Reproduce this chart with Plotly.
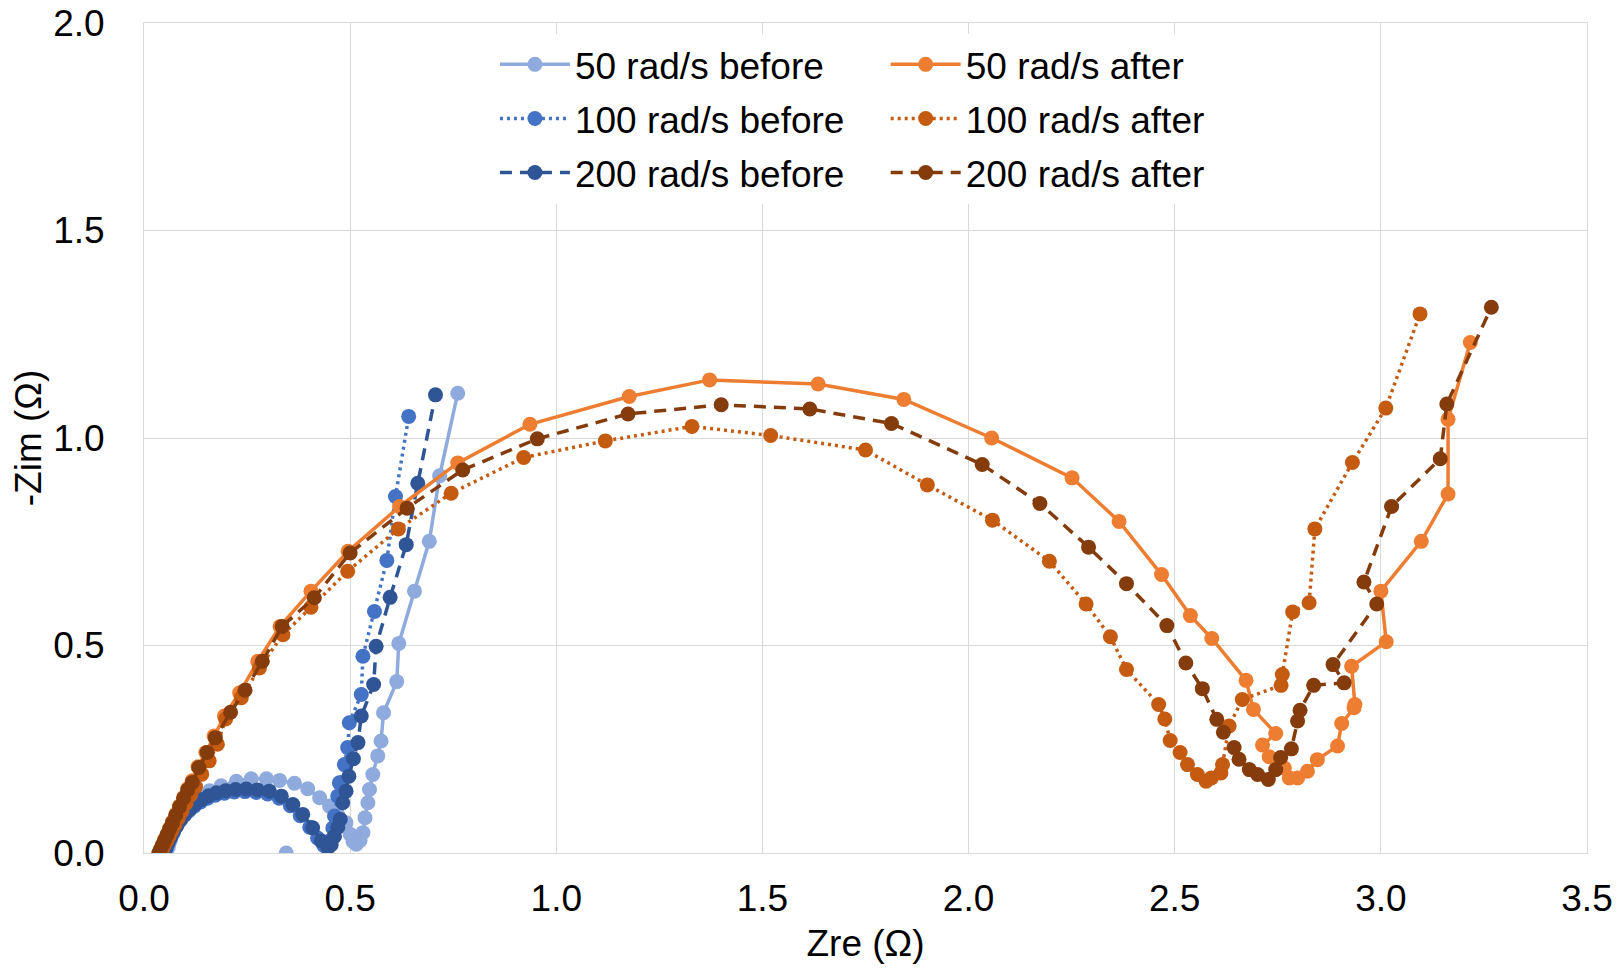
import plotly.graph_objects as go

# ---------------- data ----------------
names = ["50 rad/s before", "100 rad/s before", "200 rad/s before",
         "50 rad/s after", "100 rad/s after", "200 rad/s after"]

x_50_before = [0.345, None,
               0.055, 0.059, 0.064, 0.070, 0.077, 0.085, 0.094, 0.104, 0.117, 0.135,
               0.159, 0.187, 0.224, 0.260, 0.297, 0.329, 0.365, 0.397, 0.426, 0.450,
               0.470, 0.490, 0.500, 0.507, 0.515, 0.524, 0.531, 0.536, 0.543, 0.547,
               0.555, 0.567, 0.575, 0.581, 0.613, 0.618, 0.656, 0.692, 0.717, 0.761]
y_50_before = [0.000, None,
               0.000, 0.014, 0.030, 0.046, 0.062, 0.078, 0.094, 0.108, 0.122, 0.137,
               0.150, 0.162, 0.173, 0.179, 0.179, 0.175, 0.168, 0.155, 0.133, 0.113,
               0.092, 0.073, 0.045, 0.028, 0.021, 0.030, 0.049, 0.085, 0.121, 0.153,
               0.189, 0.234, 0.270, 0.338, 0.413, 0.505, 0.631, 0.751, 0.909, 1.108]

x_100_before = [0.047, 0.051, 0.056, 0.062, 0.069, 0.077, 0.086, 0.097, 0.109, 0.122,
                0.137, 0.154, 0.173, 0.195, 0.219, 0.245, 0.272, 0.300, 0.328, 0.355,
                0.379, 0.402, 0.421, 0.436, 0.445, 0.452, 0.458, 0.462, 0.470, 0.474,
                0.486, 0.494, 0.498, 0.527, 0.531, 0.559, 0.589, 0.610, 0.642]
y_100_before = [0.000, 0.011, 0.023, 0.036, 0.049, 0.063, 0.077, 0.090, 0.102, 0.113,
                0.123, 0.132, 0.139, 0.144, 0.147, 0.148, 0.146, 0.142, 0.132, 0.114,
                0.090, 0.062, 0.036, 0.018, 0.012, 0.030, 0.060, 0.089, 0.137, 0.169,
                0.213, 0.254, 0.314, 0.382, 0.474, 0.582, 0.705, 0.859, 1.052]

x_200_before = [0.050, 0.054, 0.059, 0.065, 0.072, 0.080, 0.089, 0.100, 0.112, 0.125,
                0.140, 0.157, 0.176, 0.198, 0.222, 0.248, 0.275, 0.304, 0.333, 0.361,
                0.385, 0.409, 0.430, 0.446, 0.454, 0.462, 0.470, 0.476, 0.482, 0.490,
                0.497, 0.508, 0.519, 0.527, 0.557, 0.563, 0.597, 0.636, 0.664, 0.707]
y_200_before = [0.000, 0.012, 0.025, 0.038, 0.052, 0.066, 0.080, 0.094, 0.107, 0.119,
                0.129, 0.138, 0.145, 0.150, 0.153, 0.154, 0.152, 0.149, 0.137, 0.117,
                0.093, 0.061, 0.029, 0.013, 0.020, 0.040, 0.062, 0.081, 0.121, 0.149,
                0.185, 0.227, 0.266, 0.330, 0.406, 0.498, 0.616, 0.743, 0.891, 1.104]

x_50_after = [0.036, 0.040, 0.045, 0.050, 0.056, 0.062, 0.069, 0.077, 0.086, 0.096,
              0.106, 0.117, 0.131, 0.150, 0.170, 0.195, 0.232, 0.276, 0.330, 0.405,
              0.495, 0.620, 0.761, 0.936, 1.177, 1.372, 1.635, 1.843, 2.056, 2.251,
              2.365, 2.468, 2.538, 2.590, 2.673, 2.691, 2.745, 2.713, 2.729, 2.766,
              2.778, 2.798, 2.822, 2.846, 2.895, 2.905, 2.935, 2.937, 2.929, 3.013,
              3.000, 3.098, 3.163, 3.163, 3.217]
y_50_after = [0.000, 0.009, 0.020, 0.032, 0.045, 0.059, 0.075, 0.093, 0.113, 0.134,
              0.155, 0.174, 0.208, 0.242, 0.282, 0.330, 0.386, 0.462, 0.546, 0.631,
              0.727, 0.835, 0.940, 1.033, 1.100, 1.140, 1.130, 1.093, 1.000, 0.904,
              0.799, 0.671, 0.572, 0.517, 0.416, 0.346, 0.288, 0.260, 0.232, 0.205,
              0.181, 0.181, 0.197, 0.225, 0.258, 0.312, 0.350, 0.358, 0.450, 0.509,
              0.631, 0.751, 0.865, 1.045, 1.230]

x_100_after = [0.040, 0.044, 0.049, 0.055, 0.061, 0.068, 0.075, 0.083, 0.092, 0.102,
               0.113, 0.125, 0.140, 0.158, 0.178, 0.198, 0.236, 0.280, 0.337, 0.405,
               0.494, 0.617, 0.745, 0.921, 1.119, 1.329, 1.520, 1.750, 1.900, 2.058,
               2.196, 2.285, 2.344, 2.383, 2.461, 2.476, 2.489, 2.513, 2.531, 2.555,
               2.576, 2.589, 2.612, 2.616, 2.632, 2.664, 2.758, 2.761, 2.786, 2.826,
               2.840, 2.931, 3.012, 3.095]
y_100_after = [0.000, 0.008, 0.018, 0.029, 0.041, 0.054, 0.068, 0.084, 0.101, 0.120,
               0.140, 0.160, 0.190, 0.222, 0.262, 0.323, 0.374, 0.446, 0.526, 0.592,
               0.679, 0.781, 0.867, 0.953, 0.993, 1.028, 1.006, 0.971, 0.887, 0.802,
               0.703, 0.600, 0.521, 0.442, 0.358, 0.323, 0.271, 0.242, 0.213, 0.189,
               0.173, 0.181, 0.193, 0.213, 0.306, 0.370, 0.404, 0.430, 0.581, 0.603,
               0.781, 0.941, 1.072, 1.299]

x_200_after = [0.036, 0.040, 0.045, 0.050, 0.056, 0.062, 0.069, 0.077, 0.086, 0.096,
               0.106, 0.117, 0.133, 0.153, 0.173, 0.210, 0.245, 0.287, 0.335, 0.413,
               0.500, 0.638, 0.773, 0.954, 1.174, 1.400, 1.615, 1.813, 2.033, 2.173,
               2.291, 2.383, 2.481, 2.527, 2.567, 2.602, 2.618, 2.644, 2.656, 2.681,
               2.701, 2.727, 2.745, 2.757, 2.783, 2.798, 2.804, 2.837, 2.911, 2.884,
               2.990, 2.959, 3.026, 3.144, 3.160, 3.268]
y_200_after = [0.000, 0.009, 0.020, 0.031, 0.044, 0.058, 0.073, 0.091, 0.111, 0.132,
               0.152, 0.170, 0.206, 0.242, 0.278, 0.339, 0.392, 0.462, 0.546, 0.615,
               0.723, 0.831, 0.923, 0.998, 1.058, 1.080, 1.070, 1.035, 0.936, 0.842,
               0.737, 0.649, 0.548, 0.458, 0.396, 0.322, 0.291, 0.254, 0.226, 0.201,
               0.189, 0.177, 0.201, 0.230, 0.251, 0.318, 0.344, 0.404, 0.410, 0.454,
               0.600, 0.653, 0.835, 0.950, 1.082, 1.315]

x_ticks = [0.0, 0.5, 1.0, 1.5, 2.0, 2.5, 3.0, 3.5]
y_ticks = [0.0, 0.5, 1.0, 1.5, 2.0]

# ---------------- styling ----------------
FONT = "Liberation Sans, Arial, sans-serif"
FS = 37
colors = ["#8FAADC", "#4472C4", "#2F5597", "#ED7D31", "#C55A11", "#843C0C"]
dashes = ["solid", "3px,4px", "12px,8px", "solid", "3px,4px", "12px,8px"]
legends = ["legend", "legend", "legend", "legend2", "legend2", "legend2"]

series = [(x_50_before, y_50_before), (x_100_before, y_100_before), (x_200_before, y_200_before),
          (x_50_after, y_50_after), (x_100_after, y_100_after), (x_200_after, y_200_after)]

fig = go.Figure()
for i, (xs, ys) in enumerate(series):
    fig.add_trace(go.Scatter(
        x=xs, y=ys, name=names[i], mode="lines+markers",
        line=dict(color=colors[i], width=3.5, dash=dashes[i]),
        marker=dict(color=colors[i], size=15, line=dict(width=0)),
        connectgaps=False, legend=legends[i], legendgroup=names[i],
    ))

axis_common = dict(
    showgrid=True, gridcolor="#D9D9D9", gridwidth=1,
    showline=True, linecolor="#D9D9D9", linewidth=1, mirror=True,
    zeroline=False, ticks="", tickfont=dict(family=FONT, size=FS, color="black"),
    tickformat=".1f", automargin=False,
)

fig.update_layout(
    width=1619, height=971,
    margin=dict(l=144, r=32, t=23, b=118, autoexpand=False),
    paper_bgcolor="white", plot_bgcolor="white",
    font=dict(family=FONT, size=FS, color="black"),
    xaxis=dict(range=[0, 3.5], tickvals=x_ticks, ticklabelstandoff=13,
               title=dict(text="Zre (Ω)", font=dict(family=FONT, size=FS), standoff=11),
               **axis_common),
    yaxis=dict(range=[0, 2.0], tickvals=y_ticks, ticklabelstandoff=31,
               title=dict(text="-Zim (Ω)", font=dict(family=FONT, size=FS), standoff=0),
               **axis_common),
    legend=dict(x=0.2432, y=0.987, xanchor="left", yanchor="top",
                bgcolor="white", borderwidth=0, itemwidth=70, tracegroupgap=3,
                font=dict(family=FONT, size=FS, color="black")),
    legend2=dict(x=0.5140, y=0.987, xanchor="left", yanchor="top",
                 bgcolor="white", borderwidth=0, itemwidth=70, tracegroupgap=3,
                 font=dict(family=FONT, size=FS, color="black")),
    showlegend=True,
)

fig.write_html("out.html", config={"displayModeBar": False},
               post_script="document.body.style.margin='0';document.body.style.padding='0';document.body.style.overflow='hidden';")
